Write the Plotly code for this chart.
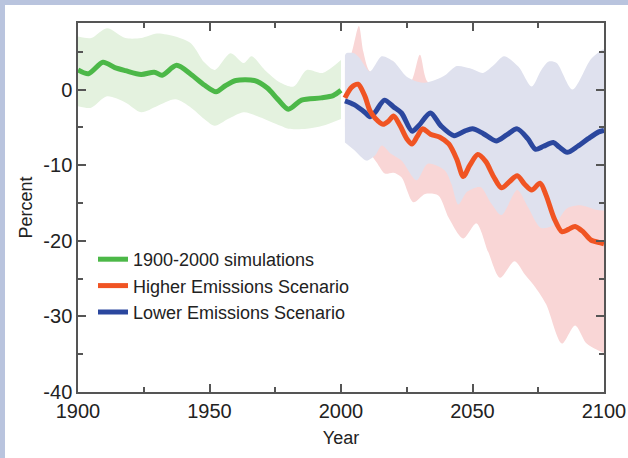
import plotly.graph_objects as go

# ---------------- data ----------------
hist_years = [1900, 1904, 1909.5, 1914, 1918, 1924, 1929, 1932, 1937.5, 1943, 1948,
              1952.5, 1956, 1960, 1967, 1972, 1976, 1980, 1985, 1992.5, 1997, 2000]
hist_mean = [2.6, 2.1, 3.6, 2.9, 2.5, 2.0, 2.3, 1.9, 3.2, 2.0, 0.6,
             -0.3, 0.5, 1.2, 1.2, 0.2, -1.3, -2.6, -1.4, -1.1, -0.8, -0.1]

hist_up_years = [1900, 1905, 1911, 1918, 1924, 1930, 1937, 1943, 1948, 1952, 1958,
                 1963, 1966, 1971, 1977, 1982, 1987, 1993, 2000]
hist_upper = [7.0, 6.8, 8.1, 6.8, 6.8, 7.4, 7.0, 6.1, 3.6, 2.6, 4.8,
              3.5, 4.4, 2.6, 0.9, 0.4, 2.6, 2.2, 3.9]
hist_lo_years = [1900, 1905, 1911, 1918, 1924, 1930, 1937, 1943, 1948, 1952, 1957,
                 1963, 1968, 1977, 1980, 1987, 1993, 2000]
hist_lower = [-2.2, -2.4, -0.9, -1.7, -3.0, -2.2, -1.3, -2.4, -3.9, -4.8, -3.9,
              -3.0, -3.5, -4.8, -5.2, -5.2, -4.8, -3.9]

high_years = [2001.5, 2004, 2006.5, 2009, 2011, 2013, 2016, 2018, 2020, 2022.5, 2025,
              2027, 2029, 2031, 2034, 2037.6, 2041, 2044, 2046.5, 2049, 2052, 2055,
              2058, 2061, 2064, 2067, 2070, 2072.5, 2075.7, 2078, 2081, 2084,
              2086.5, 2089, 2092, 2095, 2099, 2100]
high_mean = [-1.1, 0.3, 0.7, -0.8, -2.8, -3.8, -4.6, -4.2, -3.5, -4.8, -6.5,
             -7.2, -6.2, -5.2, -5.9, -6.3, -7.2, -9.2, -11.5, -10.0, -8.6, -9.5,
             -11.5, -13.0, -12.2, -11.4, -12.6, -13.3, -12.4, -14.0, -17.0, -18.8,
             -18.5, -18.1, -18.8, -19.9, -20.3, -20.4]

high_up_years = [2001.5, 2004, 2006.8, 2008.5, 2011, 2015, 2019.5, 2023, 2026.5, 2030,
                 2033, 2040, 2045, 2050, 2055, 2060, 2065, 2070, 2075, 2080, 2085,
                 2090, 2095, 2100]
high_upper = [3.0, 4.8, 8.4, 5.0, 2.4, 2.5, 3.8, 1.0, 1.0, 4.6,
              1.0, 0.5, -1.0, -2.0, -1.5, -3.0, -4.0, -5.0, -6.0, -8.0, -10.0,
              -11.0, -12.0, -12.0]
high_lo_years = [2001.5, 2010, 2013.5, 2016.7, 2020, 2023, 2027.5, 2032, 2037, 2041,
                 2046.5, 2051.5, 2056, 2060.5, 2066, 2070, 2074, 2078, 2084, 2089,
                 2093.4, 2099, 2100]
high_lower = [-5.0, -8.0, -9.6, -11.1, -11.0, -11.6, -14.9, -13.8, -14.0, -17.0,
              -19.7, -17.7, -21.5, -24.9, -22.7, -24.5, -26.2, -28.4, -33.6, -31.2,
              -33.6, -34.7, -34.8]

low_years = [2001.5, 2005, 2009, 2011, 2013, 2016.5, 2020, 2023, 2027, 2029.5, 2034,
             2038, 2043, 2047, 2050, 2054, 2059, 2063, 2067, 2071, 2074, 2077,
             2080.7, 2083, 2086, 2090, 2094, 2098, 2100]
low_mean = [-1.5, -2.0, -3.0, -3.6, -3.0, -1.4, -2.3, -3.1, -5.5, -4.8, -3.1,
            -4.8, -6.1, -5.5, -5.2, -5.8, -6.8, -6.0, -5.2, -6.5, -7.9, -7.5,
            -7.0, -7.6, -8.3, -7.5, -6.5, -5.6, -5.4]

low_up_years = [2001.5, 2002, 2005, 2007, 2011, 2015.5, 2020, 2025, 2031, 2036, 2040,
                2044, 2049, 2054, 2058, 2062, 2067.5, 2072.5, 2076, 2079, 2082, 2088,
                2095, 2099.5, 2100]
low_upper = [4.5, 4.8, 4.8, 4.2, 2.4, 4.4, 3.7, 1.7, 0.9, 1.3, 2.0,
             3.1, 2.8, 2.2, 3.2, 4.4, 3.0, 0.4, 2.5, 3.7, 3.5, 0.0,
             4.0, 5.3, 5.3]
low_lo_years = [2001.5, 2005, 2009.7, 2013, 2015.5, 2019, 2023, 2028.7, 2033, 2039.5,
                2042, 2044.6, 2048, 2053, 2057, 2061, 2067, 2071, 2076, 2081, 2086,
                2091, 2097, 2100]
low_lower = [-7.0, -8.0, -9.4, -8.7, -7.4, -8.5, -9.4, -12.0, -9.8, -10.7,
             -12.5, -15.2, -13.5, -12.9, -15.0, -16.6, -13.3, -15.5, -18.3, -17.9, -15.7,
             -15.3, -15.9, -16.0]

x_ticks = [1900, 1950, 2000, 2050, 2100]
y_ticks = [0, -10, -20, -30, -40]

# ---------------- style ----------------
GREEN, GREEN_BAND = "#4cb848", "#e4f2df"
ORANGE, PINK_BAND = "#f05423", "#f9d6d6"
BLUE, BLUE_BAND = "#2b479e", "#dfe1ee"
AXIS = "#555555"
FONT = "Liberation Sans"

fig = go.Figure()


def band(xu, yu, xl, yl, color):
    fig.add_trace(go.Scatter(x=xl, y=yl, mode="lines", line=dict(width=0, shape="spline", smoothing=0.8),
                             showlegend=False, hoverinfo="skip"))
    fig.add_trace(go.Scatter(x=xu, y=yu, mode="lines", line=dict(width=0, shape="spline", smoothing=0.8),
                             fill="tonexty", fillcolor=color, showlegend=False, hoverinfo="skip"))


band(hist_up_years, hist_upper, hist_lo_years, hist_lower, GREEN_BAND)
band(high_up_years, high_upper, high_lo_years, high_lower, PINK_BAND)
band(low_up_years, low_upper, low_lo_years, low_lower, BLUE_BAND)

fig.add_trace(go.Scatter(x=hist_years, y=hist_mean, mode="lines", name="1900-2000 simulations",
                         line=dict(color=GREEN, width=5, shape="spline", smoothing=0.8), legendrank=1))
fig.add_trace(go.Scatter(x=low_years, y=low_mean, mode="lines", name="Lower Emissions Scenario",
                         line=dict(color=BLUE, width=5, shape="spline", smoothing=0.8), legendrank=3))
fig.add_trace(go.Scatter(x=high_years, y=high_mean, mode="lines", name="Higher Emissions Scenario",
                         line=dict(color=ORANGE, width=5, shape="spline", smoothing=0.8), legendrank=2))

W, H = 628, 458
L, R, T, B = 78, 24, 23, 66
pw, ph = W - L - R, H - T - B


def px_x(p):
    return (p - L) / pw


def px_y(p):
    return (H - B - p) / ph


fig.update_layout(
    width=W, height=H,
    margin=dict(l=L, r=R, t=T, b=B, autoexpand=False),
    paper_bgcolor="white", plot_bgcolor="white",
    font=dict(family=FONT, size=18, color="#222222"),
    showlegend=True,
    legend=dict(x=px_x(93), y=px_y(241), xanchor="left", yanchor="top",
                bgcolor="rgba(0,0,0,0)", borderwidth=0, itemwidth=30,
                traceorder="normal",
                font=dict(family=FONT, size=18, color="#222222"),
                tracegroupgap=0),
    shapes=[
        dict(type="rect", xref="paper", yref="paper", x0=px_x(0), x1=px_x(5), y0=px_y(H), y1=px_y(0),
             fillcolor="#b9c4de", line=dict(width=0), layer="below"),
        dict(type="rect", xref="paper", yref="paper", x0=px_x(0), x1=px_x(W), y0=px_y(5), y1=px_y(0),
             fillcolor="#b9c4de", line=dict(width=0), layer="below"),
    ],
)

axis_common = dict(showgrid=False, zeroline=False, showline=True, linecolor=AXIS, linewidth=1.5,
                   mirror="ticks", ticks="inside", ticklen=8, tickwidth=1.5, tickcolor=AXIS,
                   automargin=False,
                   tickfont=dict(family=FONT, size=20, color="#222222"))

fig.update_xaxes(range=[1900, 2100], tickvals=x_ticks, ticktext=[str(v) for v in x_ticks],
                 title=dict(text="Year", font=dict(family=FONT, size=18), standoff=11),
                 minor=dict(ticks="inside", dtick=25, tick0=1900, ticklen=5, tickwidth=1.5, tickcolor=AXIS),
                 **axis_common)
fig.update_yaxes(range=[-40, 8.8], tickvals=y_ticks, ticktext=[str(v) for v in y_ticks],
                 title=dict(text="Percent", font=dict(family=FONT, size=18), standoff=6),
                 minor=dict(ticks="inside", dtick=5, tick0=0, ticklen=5, tickwidth=1.5, tickcolor=AXIS),
                 **axis_common)

fig.write_html(
    "out.html",
    config={"displayModeBar": False},
    post_script="document.body.style.margin='0';document.body.style.padding='0';"
                "document.body.style.overflow='hidden';",
)
